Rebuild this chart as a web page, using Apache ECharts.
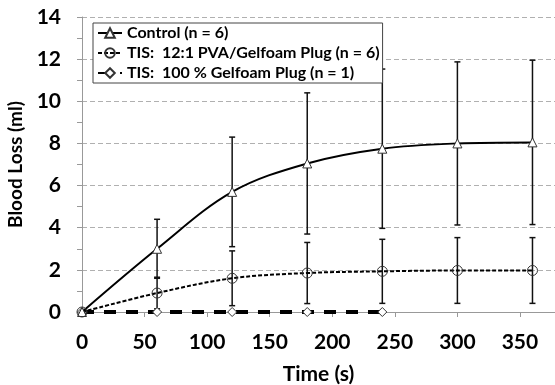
<!DOCTYPE html>
<html><head><meta charset="utf-8">
<script src="https://cdn.jsdelivr.net/npm/echarts@6/dist/echarts.min.js"></script>
<style>html,body{margin:0;padding:0;background:#fff}#c{width:555px;height:385px}</style>
</head><body><div id="c"></div>
<script>
const timeSec = [0, 60, 120, 180, 240, 300, 360];
const controlMean = [0, 3.0, 5.7, 7.05, 7.75, 8.0, 8.05];
const controlErr  = [0, 1.4, 2.6, 3.35, 3.78, 3.87, 3.9];
const pvaMean = [0, 0.9, 1.6, 1.85, 1.93, 1.97, 1.97];
const pvaErr  = [0, 0.75, 1.3, 1.45, 1.52, 1.56, 1.56];
const gelTime = [0, 60, 120, 180, 240];
const gelMean = [0, 0, 0, 0, 0];
const xTicks = [0, 50, 100, 150, 200, 250, 300, 350];
const yTicks = [0, 2, 4, 6, 8, 10, 12, 14];
const seriesNames = ['Control (n = 6)', 'TIS:  12:1 PVA/Gelfoam Plug (n = 6)', 'TIS:  100 % Gelfoam Plug (n = 1)'];

const FONT = 'Lato';
function pairs(xs, ys){ return xs.map((x,i)=>[x, ys[i]]); }
function errData(xs, m, e){ return xs.map((x,i)=>[x, m[i]-e[i], m[i]+e[i]]); }
function errSeries(data){
  return {
    type:'custom', silent:true, z:3,
    data: data,
    renderItem: function(params, api){
      const x = api.value(0);
      const lo = api.coord([x, api.value(1)]);
      const hi = api.coord([x, api.value(2)]);
      const w = 3;
      const st = {stroke:'#111', lineWidth:1.5};
      return {type:'group', children:[
        {type:'line', shape:{x1:lo[0], y1:lo[1], x2:hi[0], y2:hi[1]}, style:st},
        {type:'line', shape:{x1:lo[0]-w, y1:lo[1], x2:lo[0]+w, y2:lo[1]}, style:st},
        {type:'line', shape:{x1:hi[0]-w, y1:hi[1], x2:hi[0]+w, y2:hi[1]}, style:st}
      ]};
    }
  };
}
const chart = echarts.init(document.getElementById('c'));
chart.setOption({
  animation:false,
  grid:{left:82, top:17, right:0, bottom:73, outerBoundsMode:'none', containLabel:false},
  legend:{
    orient:'vertical', left:93, top:23,
    borderColor:'#444', borderWidth:1, backgroundColor:'#fff',
    padding:[2,3,2,4], itemGap:4, itemWidth:24, itemHeight:12,
    textStyle:{fontFamily:FONT, fontWeight:'bold', fontSize:16, color:'#000'},
    data: seriesNames
  },
  xAxis:{
    type:'value', min:0, max:378,
    name:'Time (s)', nameLocation:'middle', nameGap:52,
    nameTextStyle:{fontFamily:FONT, fontWeight:'bold', fontSize:21, color:'#000'},
    axisLine:{lineStyle:{color:'#999'}},
    axisTick:{show:true, length:5, lineStyle:{color:'#999'}, customValues:xTicks},
    axisLabel:{fontFamily:FONT, fontWeight:'bold', fontSize:21, color:'#000', margin:20, customValues:xTicks},
    splitLine:{show:false}
  },
  yAxis:{
    type:'value', min:0, max:14, interval:2,
    name:'Blood Loss (ml)', nameLocation:'middle', nameGap:50,
    nameTextStyle:{fontFamily:FONT, fontWeight:'bold', fontSize:19, color:'#000'},
    axisLine:{show:true, lineStyle:{color:'#999'}},
    axisTick:{show:true, length:5, lineStyle:{color:'#999'}},
    minorTick:{show:true, splitNumber:2, length:5, lineStyle:{color:'#999'}},
    axisLabel:{fontFamily:FONT, fontWeight:'bold', fontSize:21, color:'#000', margin:21},
    splitLine:{show:true, lineStyle:{color:'#b0b0b0', type:[5,3], width:1}}
  },
  series:[
    errSeries(errData(timeSec, controlMean, controlErr)),
    errSeries(errData(timeSec, pvaMean, pvaErr)),
    {
      name:seriesNames[0], type:'line', smooth:0.35, z:5,
      data:pairs(timeSec, controlMean),
      symbol:'triangle', symbolSize:9, showAllSymbol:true,
      lineStyle:{color:'#000', width:2},
      itemStyle:{color:'#fff', borderColor:'#333', borderWidth:1}
    },
    {
      name:seriesNames[1], type:'line', smooth:0.35, z:5,
      data:pairs(timeSec, pvaMean),
      symbol:'circle', symbolSize:10,
      lineStyle:{color:'#000', width:2, type:[4,2]},
      itemStyle:{color:'rgba(255,255,255,0)', borderColor:'#333', borderWidth:1}
    },
    {
      name:seriesNames[2], type:'line', z:4,
      data:pairs(gelTime, gelMean),
      symbol:'diamond', symbolSize:9,
      lineStyle:{color:'#000', width:4, type:[12,10]},
      itemStyle:{color:'#fff', borderColor:'#333', borderWidth:1}
    }
  ]
});
</script></body></html>
